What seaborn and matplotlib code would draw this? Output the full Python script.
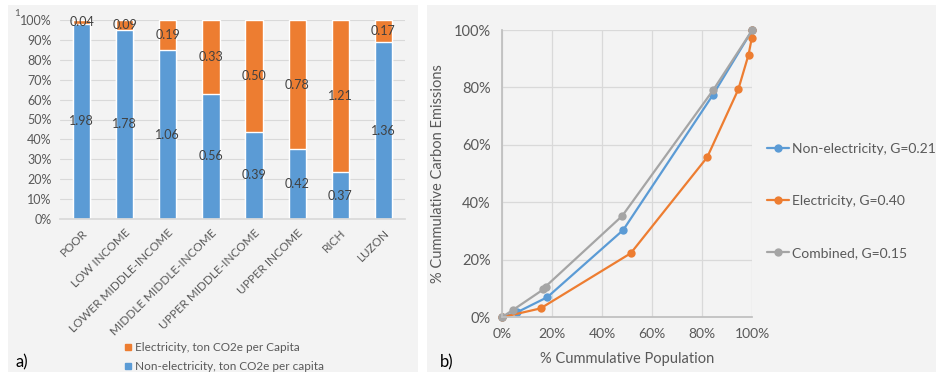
import numpy as np
import pandas as pd
import seaborn as sns
import matplotlib.pyplot as plt
from matplotlib.patches import Rectangle
from matplotlib.lines import Line2D

# ---- data: per-capita emissions (ton CO2e) by income class ----
groups = ["POOR", "LOW INCOME", "LOWER MIDDLE-INCOME", "MIDDLE MIDDLE-INCOME",
          "UPPER MIDDLE-INCOME", "UPPER INCOME", "RICH", "LUZON"]
non_elec = [1.98, 1.78, 1.06, 0.56, 0.39, 0.42, 0.37, 1.36]
elec = [0.04, 0.09, 0.19, 0.33, 0.50, 0.78, 1.21, 0.17]

# ---- data: Lorenz curves (% cumulative population, % cumulative emissions) ----
nonelec_pop = [0, 6.0, 18.2, 48.5, 84.2, 100]
nonelec_em = [0, 1.7, 7.0, 30.4, 77.3, 100]
elec_pop = [0, 15.5, 51.5, 82.0, 94.4, 98.5, 99.8, 100]
elec_em = [0, 3.1, 22.3, 55.7, 79.3, 91.4, 97.2, 100]
comb_pop = [0, 4.4, 16.6, 17.5, 48.1, 84.4, 100]
comb_em = [0, 2.5, 9.7, 10.7, 35.3, 79.1, 100]

lorenz_labels = ["Non-electricity, G=0.21", "Electricity, G=0.40", "Combined, G=0.15"]

BLUE = "#5B9BD5"
ORANGE = "#ED7D31"
GRAY = "#A5A5A5"
TXT = "#595959"
GRID = "#D9D9D9"
PANEL = "#F3F3F3"

sns.set_theme(style="white")
plt.rcParams["font.family"] = ["Lato", "DejaVu Sans"]
plt.rcParams["text.color"] = TXT
plt.rcParams["axes.labelcolor"] = TXT
plt.rcParams["xtick.color"] = TXT
plt.rcParams["ytick.color"] = TXT

W, H = 940, 376
fig = plt.figure(figsize=(W / 100, H / 100), dpi=100)
fig.patch.set_facecolor("white")


def fx(px):
    return px / W


def fy(py):
    return 1 - py / H


# panel backgrounds (behind the axes)
fig.patches.append(Rectangle((fx(8), fy(372)), fx(410), 367 / H, transform=fig.transFigure,
                             facecolor=PANEL, edgecolor="none", zorder=-10))
fig.patches.append(Rectangle((fx(427), fy(372)), fx(509), 367 / H, transform=fig.transFigure,
                             facecolor=PANEL, edgecolor="none", zorder=-10))

# ---------------- a) stacked 100% bar chart ----------------
df = pd.DataFrame({"group": groups, "non_elec": non_elec, "elec": elec})
df["total"] = df["non_elec"] + df["elec"]
df["ne_pct"] = df["non_elec"] / df["total"] * 100
df["el_pct"] = df["elec"] / df["total"] * 100
df["full"] = 100.0

ax1 = fig.add_axes([fx(60), fy(219), fx(345), 199 / H])
ax1.set_facecolor(PANEL)
sns.barplot(data=df, x="group", y="full", color=ORANGE, width=0.4, saturation=1, ax=ax1)
sns.barplot(data=df, x="group", y="ne_pct", color=BLUE, width=0.4, saturation=1, ax=ax1)
for i, row in df.iterrows():
    ax1.text(i, row["ne_pct"] / 2, f"{row['non_elec']:.2f}", ha="center", va="center",
             fontsize=9, color="#404040")
    ax1.text(i, row["ne_pct"] + row["el_pct"] / 2, f"{row['elec']:.2f}", ha="center",
             va="center", fontsize=9, color="#404040")

ax1.set_ylim(0, 100)
ax1.set_xlim(-0.5, len(groups) - 0.5)
ax1.set_yticks(np.arange(0, 101, 10))
ax1.set_yticklabels([f"{v}%" for v in range(0, 101, 10)], fontsize=9)
ax1.set_xticks(range(len(groups)))
ax1.set_xticklabels(groups, rotation=45, ha="right", rotation_mode="anchor", fontsize=8.5)
ax1.set_xlabel("")
ax1.set_ylabel("")
ax1.yaxis.grid(True, color=GRID, linewidth=0.8)
ax1.set_axisbelow(True)
ax1.tick_params(length=0, pad=6)
for s in ["top", "right", "left"]:
    ax1.spines[s].set_visible(False)
ax1.spines["bottom"].set_color(GRID)

fig.text(fx(14), fy(13), "1", fontsize=7, color=TXT, va="center")

h_el = Line2D([], [], marker="s", linestyle="none", color=ORANGE, markersize=5)
h_ne = Line2D([], [], marker="s", linestyle="none", color=BLUE, markersize=5)
fig.legend([h_el, h_ne], ["Electricity, ton CO2e per Capita", "Non-electricity, ton CO2e per capita"],
           loc="center left", bbox_to_anchor=(fx(116), fy(357)), frameon=False, fontsize=8.5,
           handletextpad=0.1, labelspacing=0.65, borderpad=0, handlelength=1)

fig.text(fx(16), fy(362), "a)", fontsize=12, color="black", va="center")

# ---------------- b) Lorenz curves ----------------
lor = pd.concat([
    pd.DataFrame({"pop": nonelec_pop, "em": nonelec_em, "series": lorenz_labels[0]}),
    pd.DataFrame({"pop": elec_pop, "em": elec_em, "series": lorenz_labels[1]}),
    pd.DataFrame({"pop": comb_pop, "em": comb_em, "series": lorenz_labels[2]}),
])

ax2 = fig.add_axes([fx(501.7), fy(317.3), fx(250.6), 287.3 / H])
ax2.set_facecolor(PANEL)
sns.lineplot(data=lor, x="pop", y="em", hue="series", hue_order=lorenz_labels,
             palette=[BLUE, ORANGE, GRAY], marker="o", markersize=6, markeredgewidth=0,
             linewidth=1.6, sort=False, estimator=None, legend=False, ax=ax2, clip_on=False)
ax2.set_xlim(0, 100)
ax2.set_ylim(0, 100)
ax2.set_xticks(np.arange(0, 101, 20))
ax2.set_xticklabels([f"{v}%" for v in range(0, 101, 20)], fontsize=10)
ax2.set_yticks(np.arange(0, 101, 20))
ax2.set_yticklabels([f"{v}%" for v in range(0, 101, 20)], fontsize=10.5)
ax2.grid(True, color=GRID, linewidth=0.9)
ax2.set_axisbelow(True)
ax2.tick_params(length=0, pad=8)
for s in ["top", "right"]:
    ax2.spines[s].set_visible(False)
for s in ["left", "bottom"]:
    ax2.spines[s].set_color("#BFBFBF")
ax2.set_xlabel("% Cummulative Population", fontsize=10.5, labelpad=8)
ax2.set_ylabel("% Cummulative Carbon Emissions", fontsize=10.5, labelpad=6)

handles = [Line2D([], [], color=c, marker="o", markersize=6, linewidth=1.6, markeredgewidth=0)
           for c in [BLUE, ORANGE, GRAY]]
fig.legend(handles, lorenz_labels, loc="center left", bbox_to_anchor=(fx(760), fy(201)),
           frameon=False, fontsize=10, handlelength=1.6, handletextpad=0.2, labelspacing=2.9,
           borderpad=0)

fig.text(fx(440), fy(362), "b)", fontsize=12, color="black", va="center")

fig.savefig("out.png", dpi=100, facecolor="white")
